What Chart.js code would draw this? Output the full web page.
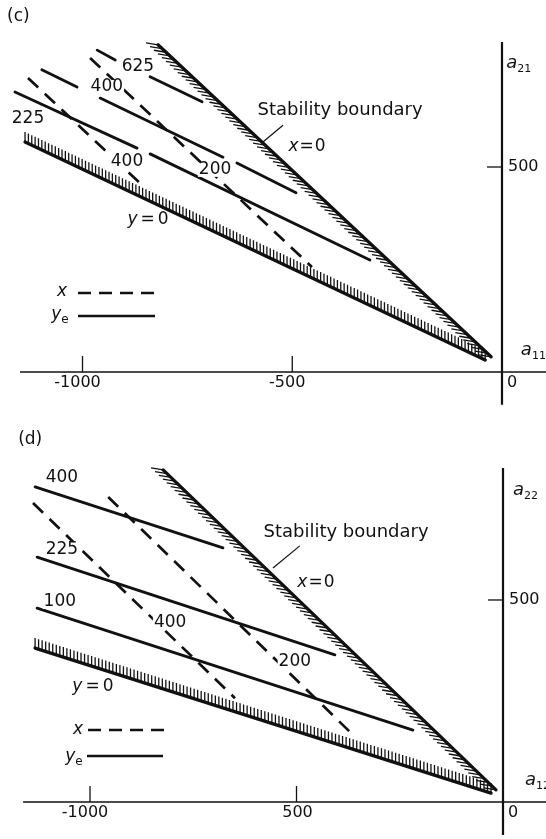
<!DOCTYPE html>
<html>
<head>
<meta charset="utf-8">
<script src="https://cdn.jsdelivr.net/npm/chart.js@4.4.0/dist/chart.umd.min.js"></script>
<style>
  html, body { margin: 0; padding: 0; background: #fff; }
  .panel { position: absolute; left: 0; width: 546px; }
  #panel-c { top: 0; height: 420px; }
  #panel-d { top: 420px; height: 419px; }
</style>
</head>
<body>
<div class="panel" id="panel-c"><canvas id="chartC" width="546" height="420"></canvas></div>
<div class="panel" id="panel-d"><canvas id="chartD" width="546" height="419"></canvas></div>
<script>
// ---- panel (c): a11 along x, a21 along y ----
const cXTicks = [-1000, -500];
const cXTickLabels = ['-1000', '-500'];
const cYTicks = [500];
const cYTickLabels = ['500'];
const cBoundaryX0 = [[-820, 798], [-26, 37]];
const cBoundaryY0 = [[-1137, 561], [-40, 29]];
const cYeLevels = ['625', '400', '225'];
const cYe625 = [[-965, 785], [-922, 761], null, [-839, 720], [-715, 659]];
const cYe400 = [[-1097, 737], [-1013, 695], null, [-958, 668], [-665, 524], null, [-632, 510], [-491, 437]];
const cYe225 = [[-1161, 683], [-870, 546], null, [-839, 532], [-315, 273]];
const cXLevels = ['200', '400'];
const cX200 = [[-982, 766], [-453, 256]];
const cX400 = [[-1130, 717], [-856, 454]];

// ---- panel (d): a12 along x, a22 along y ----
const dXTicks = [-1000, -500];
const dXTickLabels = ['-1000', '500'];
const dYTicks = [500];
const dYTickLabels = ['500'];
const dBoundaryX0 = [[-823, 822], [-17, 30]];
const dBoundaryY0 = [[-1133, 381], [-29, 22]];
const dYeLevels = ['400', '225', '100'];
const dYe400 = [[-1133, 780], [-678, 629]];
const dYe225 = [[-1128, 606], [-407, 364]];
const dYe100 = [[-1128, 480], [-218, 178]];
const dXLevels = ['400', '200'];
const dX400 = [[-1138, 740], [-649, 257]];
const dX200 = [[-956, 755], [-358, 161]];

// where things sit (data units of each panel)
const cLayout = {
  range: { xMin: -1196.7, xMax: 104.9, yMin: -117.1, yMax: 907.3 },
  axisX: [-1149, 110], axisY: [805, -80],
  yeLabelAt: [[-868, 744], [-942, 695], [-1130, 617]],
  xLabelAt: [[-684, 493], [-894, 512]],
  stability: { text: [-386, 639], from: [-522, 602], to: [-570, 561] },
  xZero: [-465, 551], yZero: [-844, 371],
  tag: { text: '(c)', at: [-1180, 866] },
  yName: { sub: '21', at: [10, 754] },
  xName: { sub: '11', at: [45, 54] },
  legend: { x: [62, 292, 78, 155, 293], ye: [60, 315, 78, 155, 316] }
};
const dLayout = {
  range: { xMin: -1217.9, xMax: 104.1, yMin: -91.6, yMax: 945.5 },
  axisX: [-1162, 110], axisY: [827, -82],
  yeLabelAt: [[-1068, 802], [-1068, 626], [-1073, 495]],
  xLabelAt: [[-806, 443], [-504, 347]],
  stability: { text: [-380, 668], from: [-492, 634], to: [-557, 579] },
  xZero: [-453, 542], yZero: [-993, 285],
  tag: { text: '(d)', at: [-1174, 896] },
  yName: { sub: '22', at: [24, 772] },
  xName: { sub: '12', at: [53, 54] },
  legend: { x: [78, 310, 88, 167, 310], ye: [74, 337, 87, 163, 336] }
};

const FONT = 'DejaVu Sans, Verdana, sans-serif';
const INK = '#111';

function splitSegments(points) {
  const segs = [];
  let cur = [];
  points.forEach(p => {
    if (p === null) { if (cur.length > 1) segs.push(cur); cur = []; }
    else cur.push({ x: p[0], y: p[1] });
  });
  if (cur.length > 1) segs.push(cur);
  return segs;
}

function buildDatasets(boundaries, solids, dashes) {
  const base = { showLine: true, pointRadius: 0, borderColor: INK, fill: false, tension: 0, spanGaps: false };
  const out = [];
  boundaries.forEach(b => splitSegments(b).forEach(seg => out.push({ ...base, data: seg, borderWidth: 3.3, borderCapStyle: 'round' })));
  solids.forEach(s => splitSegments(s).forEach(seg => out.push({ ...base, data: seg, borderWidth: 2.8, borderCapStyle: 'round' })));
  dashes.forEach(d => splitSegments(d).forEach(seg => out.push({ ...base, data: seg, borderWidth: 2.7, borderDash: [14, 9], borderCapStyle: 'butt' })));
  return out;
}

function drawParts(ctx, parts, x, y, align) {
  let total = 0;
  parts.forEach(p => { ctx.font = p.font; p.w = ctx.measureText(p.t).width + (p.gap || 0); total += p.w; });
  let cur = align === 'left' ? x : x - total / 2;
  ctx.textAlign = 'left';
  ctx.textBaseline = 'middle';
  parts.forEach(p => { ctx.font = p.font; ctx.fillText(p.t, cur, y + (p.dy || 0)); cur += p.w; });
}

function hatch(ctx, a, b, step, dx, dy) {
  const len = Math.hypot(b.x - a.x, b.y - a.y);
  const n = Math.floor(len / step);
  ctx.beginPath();
  for (let i = 0; i <= n; i++) {
    const t = i / n;
    const x = a.x + (b.x - a.x) * t, y = a.y + (b.y - a.y) * t;
    ctx.moveTo(x, y);
    ctx.lineTo(x + dx, y + dy);
  }
  ctx.stroke();
}

function figurePlugin(lay, spec) {
  return {
    id: 'figure',
    afterDatasetsDraw(chart) {
      const ctx = chart.ctx;
      const xs = chart.scales.x, ys = chart.scales.y;
      const P = v => ({ x: xs.getPixelForValue(v[0]), y: ys.getPixelForValue(v[1]) });
      const x0 = xs.getPixelForValue(0), y0 = ys.getPixelForValue(0);
      ctx.save();
      ctx.strokeStyle = INK;
      ctx.fillStyle = INK;

      // hatching on the inner side of both stability limits
      ctx.lineWidth = 1.3;
      hatch(ctx, P(spec.bx0[0]), P(spec.bx0[1]), 5.4, -12, -2);
      ctx.lineWidth = 1.3;
      hatch(ctx, P(spec.by0[0]), P(spec.by0[1]), 3.7, 0, -10);

      // axes
      ctx.lineWidth = 1.7;
      ctx.beginPath();
      ctx.moveTo(xs.getPixelForValue(lay.axisX[0]), y0);
      ctx.lineTo(xs.getPixelForValue(lay.axisX[1]), y0);
      ctx.stroke();
      ctx.lineWidth = 2.2;
      ctx.beginPath();
      ctx.moveTo(x0, ys.getPixelForValue(lay.axisY[0]));
      ctx.lineTo(x0, ys.getPixelForValue(lay.axisY[1]));
      ctx.stroke();

      ctx.lineWidth = 1.3;
      ctx.font = '16px ' + FONT;
      ctx.textBaseline = 'middle';
      spec.xTicks.forEach((v, i) => {
        const px = xs.getPixelForValue(v);
        ctx.beginPath(); ctx.moveTo(px, y0); ctx.lineTo(px, y0 - 16); ctx.stroke();
        const lbl = spec.xTickLabels[i];
        ctx.textAlign = 'center';
        ctx.fillText(lbl, lbl[0] === '-' ? px - 5 : px + 1, y0 + 11);
      });
      spec.yTicks.forEach((v, i) => {
        const py = ys.getPixelForValue(v);
        ctx.beginPath(); ctx.moveTo(x0 - 15, py); ctx.lineTo(x0, py); ctx.stroke();
        ctx.textAlign = 'left';
        ctx.fillText(spec.yTickLabels[i], x0 + 6, py);
      });
      ctx.textAlign = 'center';
      ctx.fillText('0', x0 + 10, y0 + 11);

      // axis names
      const yn = P(lay.yName.at), xn = P(lay.xName.at);
      drawParts(ctx, [{ t: 'a', font: 'italic 18px ' + FONT }, { t: lay.yName.sub, font: '11px ' + FONT, dy: 6 }], yn.x, yn.y, 'left');
      drawParts(ctx, [{ t: 'a', font: 'italic 18px ' + FONT }, { t: lay.xName.sub, font: '11px ' + FONT, dy: 6 }], xn.x, xn.y, 'left');

      // contour labels, on a white patch
      const boxLabel = (text, at) => {
        const p = P(at);
        ctx.font = '17px ' + FONT;
        const w = ctx.measureText(text).width;
        ctx.fillStyle = '#fff';
        ctx.fillRect(p.x - w / 2 - 1, p.y - 7, w + 2, 14);
        ctx.fillStyle = INK;
        ctx.textAlign = 'center';
        ctx.textBaseline = 'middle';
        ctx.fillText(text, p.x, p.y);
      };
      spec.yeLevels.forEach((t, i) => boxLabel(t, lay.yeLabelAt[i]));
      spec.xLevels.forEach((t, i) => boxLabel(t, lay.xLabelAt[i]));

      // stability boundary note
      const st = P(lay.stability.text);
      ctx.font = '18px ' + FONT;
      ctx.textAlign = 'center';
      ctx.fillText('Stability boundary', st.x, st.y);
      const f = P(lay.stability.from), g = P(lay.stability.to);
      ctx.lineWidth = 1.2;
      ctx.beginPath(); ctx.moveTo(f.x, f.y); ctx.lineTo(g.x, g.y); ctx.stroke();

      const xz = P(lay.xZero), yz = P(lay.yZero);
      drawParts(ctx, [{ t: 'x', font: 'italic 17px ' + FONT, gap: 1 }, { t: '=', font: '17px ' + FONT, gap: 1 }, { t: '0', font: '17px ' + FONT }], xz.x, xz.y);
      drawParts(ctx, [{ t: 'y', font: 'italic 17px ' + FONT, gap: 3 }, { t: '=', font: '17px ' + FONT, gap: 3 }, { t: '0', font: '17px ' + FONT }], yz.x, yz.y);

      const tg = P(lay.tag.at);
      ctx.font = '17px ' + FONT;
      ctx.textAlign = 'left';
      ctx.fillText(lay.tag.text, tg.x, tg.y);

      // key
      const lx = lay.legend.x, ly = lay.legend.ye;
      drawParts(ctx, [{ t: 'x', font: 'italic 17px ' + FONT }], lx[0], lx[1]);
      drawParts(ctx, [{ t: 'y', font: 'italic 17px ' + FONT }, { t: 'e', font: '12px ' + FONT, dy: 5 }], ly[0], ly[1]);
      ctx.lineWidth = 2.7;
      ctx.setLineDash([13, 8]);
      ctx.beginPath(); ctx.moveTo(lx[2], lx[4]); ctx.lineTo(lx[3], lx[4]); ctx.stroke();
      ctx.setLineDash([]);
      ctx.beginPath(); ctx.moveTo(ly[2], ly[4]); ctx.lineTo(ly[3], ly[4]); ctx.stroke();
      ctx.restore();
    }
  };
}

function makePanel(id, lay, spec) {
  return new Chart(document.getElementById(id), {
    type: 'scatter',
    data: { datasets: buildDatasets([spec.bx0, spec.by0], spec.solids, spec.dashes) },
    options: {
      responsive: false,
      animation: false,
      events: [],
      layout: { padding: 0 },
      plugins: { legend: { display: false }, tooltip: { enabled: false } },
      scales: {
        x: { type: 'linear', min: lay.range.xMin, max: lay.range.xMax, display: false },
        y: { type: 'linear', min: lay.range.yMin, max: lay.range.yMax, display: false }
      }
    },
    plugins: [figurePlugin(lay, spec)]
  });
}

makePanel('chartC', cLayout, {
  bx0: cBoundaryX0, by0: cBoundaryY0,
  solids: [cYe625, cYe400, cYe225], dashes: [cX200, cX400],
  yeLevels: cYeLevels, xLevels: cXLevels,
  xTicks: cXTicks, xTickLabels: cXTickLabels, yTicks: cYTicks, yTickLabels: cYTickLabels
});
makePanel('chartD', dLayout, {
  bx0: dBoundaryX0, by0: dBoundaryY0,
  solids: [dYe400, dYe225, dYe100], dashes: [dX400, dX200],
  yeLevels: dYeLevels, xLevels: dXLevels,
  xTicks: dXTicks, xTickLabels: dXTickLabels, yTicks: dYTicks, yTickLabels: dYTickLabels
});
</script>
</body>
</html>
